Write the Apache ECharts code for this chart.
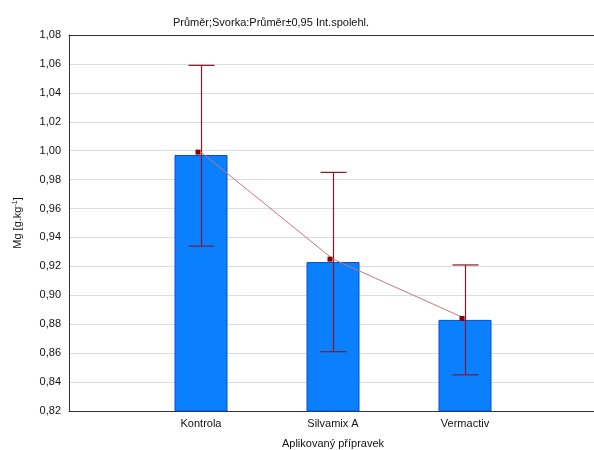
<!DOCTYPE html>
<html><head><meta charset="utf-8">
<script src="https://cdn.jsdelivr.net/npm/echarts@6/dist/echarts.min.js"></script>
<style>html,body{margin:0;padding:0;background:#fff}#c{width:594px;height:450px}</style>
</head><body><div id="c"></div>
<script>
var categories = ['Kontrola', 'Silvamix A', 'Vermactiv'];
var barValues = [0.997, 0.923, 0.883];
var meanValues = [0.999, 0.925, 0.884];
var ciLow = [0.934, 0.861, 0.845];
var ciHigh = [1.059, 0.985, 0.921];
var titleText = 'Průměr;Svorka:Průměr±0,95 Int.spolehl.';

var font = 'Liberation Sans, Arial, sans-serif';
var chart = echarts.init(document.getElementById('c'));
var pos = categories.map(function (c, i) { return i + 1; });

chart.setOption({
  animation: false,
  title: { text: titleText, left: 266, top: 12, textAlign: 'center',
    textStyle: { fontFamily: font, fontSize: 11, fontWeight: 'normal', color: '#111' } },
  grid: { left: 69, top: 35, width: 528, height: 376, containLabel: false, outerBoundsMode: 'none', show: false },
  xAxis: [{
    type: 'value', min: 0, max: 4, interval: 1,
    name: 'Aplikovaný přípravek', nameLocation: 'middle', nameGap: 27,
    nameTextStyle: { fontFamily: font, fontSize: 11, color: '#111' },
    axisLine: { lineStyle: { color: '#333' } },
    axisTick: { inside: true, length: 3, lineStyle: { color: '#333' } },
    splitLine: { show: false },
    axisLabel: { fontFamily: font, fontSize: 11, color: '#111', margin: 7,
      formatter: function (v) { return categories[v - 1] || ''; } }
  }, {
    type: 'value', position: 'top', min: 0, max: 4, interval: 1,
    axisLine: { show: true, lineStyle: { color: '#333' } },
    axisTick: { show: false }, axisLabel: { show: false }, splitLine: { show: false }
  }],
  yAxis: {
    type: 'value', min: 0.82, max: 1.08, interval: 0.02,
    name: 'Mg [g.kg{sup|-1}]', nameLocation: 'middle', nameGap: 45, nameRotate: 90,
    nameTextStyle: { fontFamily: font, fontSize: 11, color: '#111',
      rich: { sup: { fontFamily: font, fontSize: 7, color: '#111', verticalAlign: 'top', padding: [0, 0, 5, 0] } } },
    axisLine: { show: true, lineStyle: { color: '#333' } },
    axisTick: { show: false },
    splitLine: { lineStyle: { color: '#dddddd' } },
    axisLabel: { fontFamily: font, fontSize: 11, color: '#111', margin: 8,
      formatter: function (v) { return v.toFixed(2).replace('.', ','); } }
  },
  series: [
    {
      type: 'bar', barWidth: 53,
      data: pos.map(function (p, i) { return [p, barValues[i]]; }),
      itemStyle: { color: '#0a80ff', borderColor: '#0a4ccc', borderWidth: 1 }
    },
    {
      type: 'line', data: pos.map(function (p, i) { return [p, meanValues[i]]; }),
      lineStyle: { color: '#c07878', width: 1 },
      symbol: 'rect', symbolSize: 5, symbolOffset: [-3, 0],
      itemStyle: { color: '#8b0000' }, z: 4
    },
    {
      type: 'custom', z: 3,
      data: pos.map(function (p, i) { return [p, ciLow[i], ciHigh[i]]; }),
      renderItem: function (params, api) {
        var lo = api.coord([api.value(0), api.value(1)]);
        var hi = api.coord([api.value(0), api.value(2)]);
        var x = Math.round(lo[0]) + 0.5;
        var hw = 13;
        var st = { stroke: '#861a2a', lineWidth: 1.2 };
        return { type: 'group', children: [
          { type: 'line', shape: { x1: x, y1: lo[1], x2: x, y2: hi[1] }, style: st },
          { type: 'line', shape: { x1: x - hw, y1: lo[1], x2: x + hw, y2: lo[1] }, style: st },
          { type: 'line', shape: { x1: x - hw, y1: hi[1], x2: x + hw, y2: hi[1] }, style: st }
        ] };
      }
    }
  ]
});
</script></body></html>
